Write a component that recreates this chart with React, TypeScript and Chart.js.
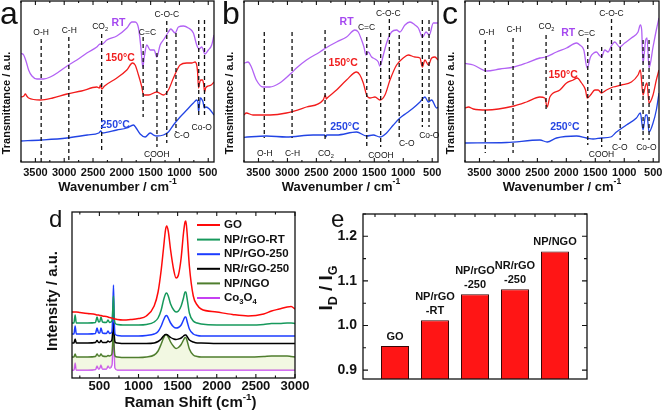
import React, { useEffect, useRef } from 'react';
import { Chart, registerables } from 'chart.js';

Chart.register(...registerables);

const FONT = '"Liberation Sans", Arial, Helvetica, sans-serif';
type Pt = [number, number];

// ---------------- FTIR (panels a, b, c) ----------------
const ftirTicks = [3500, 3000, 2500, 2000, 1500, 1000, 500];
const ftirMinorTicks = [3750, 3250, 2750, 2250, 1750, 1250, 750];
const ftirSamples = ['RT', '150°C', '250°C'];

const aRT: Pt[] = [[3750,108.7],[3704,107],[3658,100],[3618,92],[3560,86],[3473,83],[3358,83],[3242,85],[3098,90],[2925,97],[2780,102],[2607,109],[2434,115],[2376,118],[2340,118],[2260,122],[2087,126],[1913,134],[1826,140],[1769,140],[1711,134],[1670,115],[1636,95],[1613,104],[1566,117],[1508,112],[1439,112],[1393,105],[1335,117],[1266,123],[1191,130],[1150,133],[1075,129],[1018,135],[931,136],[845,134],[758,129],[700,117],[660,113],[613,115],[556,108],[498,112],[440,117],[400,127]];
const a150: Pt[] = [[3750,65],[3700,66],[3675,68],[3650,66],[3618,64],[3415,62],[3200,64],[2953,68],[2700,71],[2434,75],[2390,74],[2370,77],[2350,73],[2300,76],[2087,84],[1913,92],[1815,99],[1769,97],[1711,87],[1653,75],[1624,67],[1537,67],[1393,70],[1278,67],[1191,72],[1104,84],[989,97],[873,99],[787,99],[729,100],[700,97],[685,90],[668,74],[655,78],[630,82],[600,82],[580,78],[563,70],[545,74],[500,76],[450,77],[400,80]];
const a250: Pt[] = [[3750,21],[3400,22],[2953,24],[2600,27],[2400,29],[2365,31],[2340,29],[2087,32],[1913,34],[1798,37],[1752,34],[1682,28],[1595,25],[1508,29],[1450,27],[1393,26],[1278,27],[1191,30],[1104,37],[989,45],[873,52],[758,59],[700,62],[680,60],[668,50],[655,56],[635,64],[615,63],[590,60],[568,54],[540,55],[480,53],[400,47]];

const bRT: Pt[] = [[3750,98.7],[3681,100],[3623,95],[3537,82],[3421,75],[3306,75],[3133,79],[2931,89],[2844,94],[2671,102],[2440,110],[2337,114],[2152,120],[1979,125],[1835,132],[1777,130],[1719,122],[1679,115],[1644,107],[1604,110],[1546,105],[1488,103],[1431,100],[1405,96],[1335,109],[1288,119],[1202,130],[1115,132],[1058,130],[971,137],[885,140],[798,137],[740,134],[665,125],[607,130],[550,127],[481,139],[400,139]];
const b150: Pt[] = [[3750,47],[3710,49],[3595,47],[3300,47],[3018,49],[2671,55],[2383,62],[2345,67],[2330,63],[2314,64],[2152,72],[1979,82],[1806,90],[1748,87],[1690,79],[1633,67],[1575,64],[1488,65],[1402,62],[1316,67],[1229,82],[1115,97],[1000,104],[913,107],[798,105],[711,104],[671,95],[625,102],[567,97],[510,104],[452,105],[400,102]];
const b250: Pt[] = [[3750,24.7],[3363,26],[3018,25],[2556,27],[2360,27],[2337,25],[2320,27],[2152,27],[1806,30],[1633,26],[1517,27],[1402,25],[1288,29],[1171,37],[1058,44],[942,49],[827,54],[711,60],[625,65],[567,60],[510,62],[423,54],[400,55]];

const cRT: Pt[] = [[3750,98.7],[3606,97],[3376,91],[3146,93],[2905,95],[2687,99],[2457,104],[2354,105],[2170,110],[1997,114],[1824,119],[1767,117],[1698,112],[1641,94],[1583,105],[1526,109],[1480,110],[1434,107],[1393,105],[1336,112],[1279,110],[1233,115],[1164,120],[1078,115],[992,119],[877,124],[762,130],[722,137],[699,132],[676,99],[630,122],[607,124],[572,94],[503,115],[446,132],[400,144]];
const c150: Pt[] = [[3750,54],[3692,55],[3606,53],[3376,52],[2905,56],[2687,60],[2457,65],[2371,64],[2331,55],[2285,65],[2112,72],[1997,79],[1882,82],[1813,84],[1738,79],[1669,72],[1641,64],[1583,67],[1508,72],[1451,72],[1393,69],[1307,72],[1192,75],[1049,77],[877,80],[762,87],[722,92],[676,67],[630,77],[607,79],[572,59],[503,67],[446,82],[400,92]];
const c250: Pt[] = [[3750,19],[3031,19.5],[2457,22],[2331,20],[2170,24],[1824,26],[1652,24],[1537,23],[1393,24],[1233,25],[1135,30],[963,37],[790,44],[722,49],[676,32],[630,47],[607,47],[572,30],[503,39],[446,52],[400,69]];

// dashed band markers: [wavenumber, top, bottom]
const aMarks: number[][] = [[3400,123,0],[2920,125,0],[2350,128,9],[1630,125,45],[1390,109,15],[1220,141,19],[1060,129,30],[665,142,45],[565,142,45]];
const bMarks: number[][] = [[3400,130,24],[2920,130,24],[2350,132,20],[1630,125,15],[1390,129,15],[1240,143,82],[1070,127,25],[670,142,35],[555,142,35]];
const cMarks: number[][] = [[3400,122,9],[2920,124,9],[2350,127,52],[1630,124,17],[1390,115,15],[1220,143,62],[1070,129,22],[675,122,22],[572,122,22]];

// bond labels: [text, wavenumber, value]
const aBonds: [string, number, number][] = [['O-H',3400,129],['C-H',2913,131],['CO_{2}',2376,135],['C=C',1556,129],['C-O-C',1220,147],['COOH',1393,7],['C-O',960,26],['Co-O',613,34]];
const bBonds: [string, number, number][] = [['O-H',3392,8],['C-H',2913,8],['CO_{2}',2337,8],['C=C',1633,134],['C-O-C',1259,148],['COOH',1385,6],['C-O',940,18],['Co-O',550,26]];
const cBonds: [string, number, number][] = [['O-H',3376,129],['C-H',2905,132],['CO_{2}',2342,135],['C=C',1652,128],['C-O-C',1221,148],['COOH',1393,7],['C-O',1078,14],['Co-O',618,14]];

// sample label anchors (RT, 150, 250)
const aSampleAt: Pt[] = [[2058,139],[2029,104],[2116,37]];
const bSampleAt: Pt[] = [[1979,140],[2037,99],[2008,35]];
const cSampleAt: Pt[] = [[1969,129],[2055,87],[2026,35]];

// ---------------- Raman (panel d) ----------------
const ramanShift = [150,175,190,205,250,350,450,470,490,505,520,540,590,610,630,660,672,680,688,700,730,800,900,1000,1100,1200,1250,1290,1320,1345,1360,1380,1410,1450,1480,1510,1545,1575,1595,1605,1620,1650,1700,1750,1800,2000,2200,2400,2600,2700,2800,2900,2950,3000];
const ramanGO = [66,66,66,66,65.5,64.5,63.5,63,63,62.5, 62.5,62,61.5,61,60.5,60,59.5,59.5,59,59, 58.5,58,58.5,59.5,62,72,86,108,130,148, 152,147,128,108,100,103,120,145,156,157, 146,112,82,73,69,66,63.5,62,64,67, 69,71,71.5,69];
const ramanRT = [55,55,63,55,55,55,55.5,61,56,56.5, 61,56,55.5,58,55.5,57,70,82,64,55, 53.5,53,53,53,53.5,56,60,68,78,84, 85,82,74,68,66,67,72,80,86,86, 80,65,57,55,54,53,53,53,53.5,54.5, 54.5,55,55,54.5];
const ramanNP250 = [44,44,52,44,44,44,44.5,50,45,45, 50,45,44.5,47,44.5,46,66,93,62,44, 42.5,42,42,42,42.5,44,46.5,52,58,62, 62.5,60,55,51,50,50.5,53,58,61,61, 57,49,44,42.5,42,42,42,42,42,42, 42,42,42,42];
const ramanNR250 = [35,35,39,35,35,35,35.5,37.5,35.5,35.5, 37.5,35.5,35.5,37,36,38,48,55,45,36, 35,34.5,34.5,34.5,34.5,35,36.5,39,42,43.5, 43.5,42.5,40.5,39,38.5,39,40,42,43,43, 41.5,38,36,35,35,34.5,34.5,34.5,34.5,34.5, 34.5,34.5,34.5,34.5];
const ramanNGO = [21,21,24,21,21,21,21.5,24,22,22, 24,22,21.5,22.5,22,24,38,48,32,22, 21,20.5,20.5,20.5,21,23,27,34,40,43, 43,41,36,31.5,29.5,30.5,33.5,38,40.5,40.5, 37.5,29,23,21.5,21,21,21,21,21.5,22, 22,22,21.5,21];
const ramanCo3O4 = [8,8,15,8,8,8,8.5,12,9,10, 13,9,9,12,10,13,35,58,30,10, 8,8,8,8,8,8,8,8,8,8, 8,8,8,8,8,8,8,8,8,8, 8,8,8,8,8,8,8,8,8,8, 8,8,8,8];
const ramanNames = ['GO', 'NP/rGO-RT', 'NP/rGO-250', 'NR/rGO-250', 'NP/NGO', 'Co_{3}O_{4}'];
const ramanTicks = [500, 1000, 1500, 2000, 2500, 3000];
const ramanMinorTicks = [250, 750, 1250, 1750, 2250, 2750];

// ---------------- ID/IG (panel e) ----------------
const idgLabels = ['GO', 'NP/rGO-RT', 'NP/rGO-250', 'NR/rGO-250', 'NP/NGO'];
const idgValues = [0.954, 1.012, 1.07, 1.081, 1.166];
const idgTicks = [0.9, 1.0, 1.1, 1.2];
const idgMinorTicks = [0.95, 1.05, 1.15, 1.25];

// ---------------- helpers ----------------
const ftirLineColors = ['#b262f4', '#f21c1c', '#2244e4'];
const ftirLabelColors = ['#a548f0', '#f01e1e', '#2646e2'];
const ramanColors = ['#ff0a0a', '#17995c', '#1c3cff', '#000000', '#4f7e2e', '#c640f2'];
const INK = '#111';

type Seg = { t: string; k: 'n' | 'sub' | 'sup' };
function parseRich(s: string): Seg[] {
  const out: Seg[] = [];
  const re = /([_^])\{([^}]*)\}|([^_^]+)/g;
  let m: RegExpExecArray | null;
  while ((m = re.exec(s))) {
    if (m[3] !== undefined) out.push({ t: m[3], k: 'n' });
    else out.push({ t: m[2], k: m[1] === '_' ? 'sub' : 'sup' });
  }
  return out;
}
function fontStr(size: number, bold: boolean) {
  return `${bold ? 'bold ' : ''}${size}px ${FONT}`;
}
function drawRich(ctx: CanvasRenderingContext2D, s: string, x: number, y: number, size: number, bold: boolean, color: string, align: 'left' | 'center' | 'right' = 'center') {
  const segs = parseRich(s);
  const small = size * 0.66;
  let w = 0;
  for (const g of segs) {
    ctx.font = fontStr(g.k === 'n' ? size : small, bold);
    w += ctx.measureText(g.t).width;
  }
  let cx = align === 'center' ? x - w / 2 : align === 'right' ? x - w : x;
  ctx.fillStyle = color;
  ctx.textBaseline = 'middle';
  ctx.textAlign = 'left';
  for (const g of segs) {
    const sz = g.k === 'n' ? size : small;
    ctx.font = fontStr(sz, bold);
    const dy = g.k === 'sub' ? size * 0.32 : g.k === 'sup' ? -size * 0.38 : 0;
    ctx.fillText(g.t, cx, y + dy);
    cx += ctx.measureText(g.t).width;
  }
}
function drawRotated(ctx: CanvasRenderingContext2D, s: string, x: number, y: number, size: number, color: string) {
  ctx.save();
  ctx.translate(x, y);
  ctx.rotate(-Math.PI / 2);
  drawRich(ctx, s, 0, 0, size, true, color);
  ctx.restore();
}
function frame(ctx: CanvasRenderingContext2D, ca: any) {
  ctx.save();
  ctx.strokeStyle = INK;
  ctx.lineWidth = 1.3;
  ctx.setLineDash([]);
  ctx.strokeRect(ca.left, ca.top, ca.right - ca.left, ca.bottom - ca.top);
  ctx.restore();
}
function xTicks(ctx: CanvasRenderingContext2D, ca: any, sx: any, values: number[], len: number, top: boolean, bottom: boolean) {
  ctx.save();
  ctx.strokeStyle = INK;
  ctx.lineWidth = 1.1;
  ctx.beginPath();
  for (const v of values) {
    const px = sx.getPixelForValue(v);
    if (px < ca.left - 0.5 || px > ca.right + 0.5) continue;
    if (bottom) { ctx.moveTo(px, ca.bottom); ctx.lineTo(px, ca.bottom - len); }
    if (top) { ctx.moveTo(px, ca.top); ctx.lineTo(px, ca.top + len); }
  }
  ctx.stroke();
  ctx.restore();
}
function yTicks(ctx: CanvasRenderingContext2D, ca: any, sy: any, values: number[], len: number) {
  ctx.save();
  ctx.strokeStyle = INK;
  ctx.lineWidth = 1.1;
  ctx.beginPath();
  for (const v of values) {
    const py = sy.getPixelForValue(v);
    ctx.moveTo(ca.left, py); ctx.lineTo(ca.left + len, py);
    ctx.moveTo(ca.right, py); ctx.lineTo(ca.right - len, py);
  }
  ctx.stroke();
  ctx.restore();
}

// ---------------- chart configs ----------------
function ftirConfig(series: Pt[][], marks: number[][], bonds: [string, number, number][], sampleAt: Pt[], letter: string, letterX: number, pad: any) {
  return {
    type: 'line',
    data: {
      datasets: series.map((s, i) => ({
        label: ftirSamples[i],
        data: s.map(([x, y]) => ({ x, y })),
        borderColor: ftirLineColors[i],
        borderWidth: 1.3,
        pointRadius: 0,
        fill: false,
        cubicInterpolationMode: 'monotone',
      })),
    },
    options: {
      animation: false,
      responsive: false,
      events: [],
      layout: { padding: pad },
      scales: {
        x: { type: 'linear', reverse: true, min: 400, max: 3750, display: false },
        y: { type: 'linear', min: 0, max: 161, display: false },
      },
      plugins: { legend: { display: false }, tooltip: { enabled: false } },
    },
    plugins: [{
      id: 'ftirDecor',
      afterDatasetsDraw(chart: any) {
        const { ctx, chartArea: ca, scales } = chart;
        const sx = scales.x, sy = scales.y;
        ctx.save();
        ctx.strokeStyle = INK;
        ctx.lineWidth = 1.3;
        ctx.setLineDash([4, 3]);
        ctx.beginPath();
        for (const [wn, y0, y1] of marks) {
          const px = sx.getPixelForValue(wn);
          ctx.moveTo(px, sy.getPixelForValue(y0));
          ctx.lineTo(px, sy.getPixelForValue(y1));
        }
        ctx.stroke();
        ctx.setLineDash([]);
        for (const [t, wn, v] of bonds) {
          drawRich(ctx, t, sx.getPixelForValue(wn), sy.getPixelForValue(v), 8.5, false, INK);
        }
        sampleAt.forEach(([wn, v], i) => {
          drawRich(ctx, ftirSamples[i], sx.getPixelForValue(wn), sy.getPixelForValue(v), 10.5, true, ftirLabelColors[i]);
        });
        frame(ctx, ca);
        xTicks(ctx, ca, sx, ftirTicks, 4, true, true);
        xTicks(ctx, ca, sx, ftirMinorTicks, 2, true, true);
        for (const t of ftirTicks) {
          drawRich(ctx, String(t), sx.getPixelForValue(t), ca.bottom + 11, 11, true, INK);
        }
        drawRich(ctx, 'Wavenumber / cm^{-1}', (ca.left + ca.right) / 2, ca.bottom + 25, 13, true, INK);
        drawRotated(ctx, 'Transmittance / a.u.', ca.left - 14, ca.bottom - 59, 11, INK);
        ctx.font = `32px ${FONT}`;
        ctx.fillStyle = INK;
        ctx.textAlign = 'left';
        ctx.textBaseline = 'alphabetic';
        ctx.fillText(letter, letterX, 24);
        ctx.restore();
      },
    }],
  } as any;
}

function ramanConfig() {
  const series = [ramanGO, ramanRT, ramanNP250, ramanNR250, ramanNGO, ramanCo3O4];
  return {
    type: 'line',
    data: {
      datasets: series.map((vals, i) => ({
        label: ramanNames[i],
        data: vals.map((v, j) => ({ x: ramanShift[j], y: v })),
        borderColor: ramanColors[i],
        borderWidth: 1.5,
        pointRadius: 0,
        cubicInterpolationMode: 'monotone',
        fill: i === 4 ? { target: '+1' } : false,
        backgroundColor: i === 4 ? 'rgba(226,240,190,0.45)' : 'transparent',
      })),
    },
    options: {
      animation: false,
      responsive: false,
      events: [],
      layout: { padding: { left: 72, right: 25, top: 12, bottom: 38 } },
      scales: {
        x: { type: 'linear', min: 150, max: 3000, display: false },
        y: { type: 'linear', min: 0, max: 166, display: false },
      },
      plugins: { legend: { display: false }, tooltip: { enabled: false } },
    },
    plugins: [{
      id: 'ramanDecor',
      afterDatasetsDraw(chart: any) {
        const { ctx, chartArea: ca, scales } = chart;
        const sx = scales.x;
        ctx.save();
        frame(ctx, ca);
        xTicks(ctx, ca, sx, ramanTicks, 4, true, true);
        xTicks(ctx, ca, sx, ramanMinorTicks, 2.5, true, true);
        for (const t of ramanTicks) {
          drawRich(ctx, String(t), sx.getPixelForValue(t), ca.bottom + 8, 13, true, INK);
        }
        drawRich(ctx, 'Raman Shift (cm^{-1})', (ca.left + ca.right) / 2 + 7, ca.bottom + 25, 15, true, INK);
        drawRotated(ctx, 'Intensity / a.u.', ca.left - 19, ca.bottom - 77, 15, INK);
        // legend
        ramanNames.forEach((name, i) => {
          const yy = ca.top + 13 + i * 14.6;
          ctx.strokeStyle = ramanColors[i];
          ctx.lineWidth = 2;
          ctx.beginPath();
          ctx.moveTo(ca.right - 98, yy);
          ctx.lineTo(ca.right - 75, yy);
          ctx.stroke();
          drawRich(ctx, name, ca.right - 71, yy, 11.5, true, INK, 'left');
        });
        ctx.font = `24px ${FONT}`;
        ctx.fillStyle = INK;
        ctx.textAlign = 'left';
        ctx.textBaseline = 'alphabetic';
        ctx.fillText('d', 49, 27);
        ctx.restore();
      },
    }],
  } as any;
}

function idgConfig() {
  const topTicks: number[] = [];
  idgLabels.forEach((_, i) => { topTicks.push(i + 0.5, i + 1); });
  topTicks.push(idgLabels.length + 0.5);
  return {
    type: 'bar',
    data: {
      datasets: [{
        label: 'ID/IG',
        data: idgValues.map((v, i) => ({ x: i + 1, y: v })),
        backgroundColor: '#ff1515',
        borderColor: '#3a0606',
        borderWidth: 1,
        categoryPercentage: 1,
        barPercentage: 0.7,
      }],
    },
    options: {
      animation: false,
      responsive: false,
      events: [],
      layout: { padding: { left: 53, right: 76, top: 14, bottom: 37 } },
      scales: {
        x: { type: 'linear', min: 0.2, max: 5.8, offset: false, display: false },
        y: { type: 'linear', min: 0.88, max: 1.25, display: false },
      },
      plugins: { legend: { display: false }, tooltip: { enabled: false } },
    },
    plugins: [{
      id: 'idgDecor',
      afterDatasetsDraw(chart: any) {
        const { ctx, chartArea: ca, scales } = chart;
        const sx = scales.x, sy = scales.y;
        ctx.save();
        frame(ctx, ca);
        yTicks(ctx, ca, sy, idgTicks, 5);
        yTicks(ctx, ca, sy, idgMinorTicks, 3);
        xTicks(ctx, ca, sx, topTicks, 3, true, false);
        for (const t of idgTicks) {
          drawRich(ctx, t.toFixed(1), ca.left - 6, sy.getPixelForValue(t), 14, true, INK, 'right');
        }
        drawRotated(ctx, 'I_{D} / I_{G}', ca.left - 36, ca.bottom - 91, 19, INK);
        idgLabels.forEach((lab, i) => {
          const k = lab.indexOf('-');
          const lines = k > 0 ? [lab.slice(0, k), lab.slice(k)] : [lab];
          const px = sx.getPixelForValue(i + 1);
          const topPx = sy.getPixelForValue(idgValues[i]);
          lines.forEach((ln, j) => {
            const yy = topPx - 9 - (lines.length - 1 - j) * 14;
            drawRich(ctx, ln, px, yy, 11, true, INK);
          });
        });
        ctx.font = `24px ${FONT}`;
        ctx.fillStyle = INK;
        ctx.textAlign = 'left';
        ctx.textBaseline = 'alphabetic';
        ctx.fillText('e', 21, 27);
        ctx.restore();
      },
    }],
  } as any;
}

function Panel(props: { left: number; top: number; width: number; height: number; make: () => any }) {
  const ref = useRef<HTMLCanvasElement>(null);
  useEffect(() => {
    const chart = new Chart(ref.current as HTMLCanvasElement, props.make());
    return () => chart.destroy();
  }, []);
  return (
    <canvas
      ref={ref}
      width={props.width}
      height={props.height}
      style={{ position: 'absolute', left: props.left, top: props.top, width: props.width, height: props.height }}
    />
  );
}

export default function App() {
  return (
    <div style={{ position: 'absolute', left: 0, top: 0, width: 663, height: 416, background: '#fff', overflow: 'hidden' }}>
      <Panel left={0} top={0} width={222} height={200}
        make={() => ftirConfig([aRT, a150, a250], aMarks, aBonds, aSampleAt, 'a', 0, { left: 21, right: 8, top: 1, bottom: 38 })} />
      <Panel left={222} top={0} width={222} height={200}
        make={() => ftirConfig([bRT, b150, b250], bMarks, bBonds, bSampleAt, 'b', 0, { left: 22, right: 6, top: 1, bottom: 38 })} />
      <Panel left={441} top={0} width={222} height={200}
        make={() => ftirConfig([cRT, c150, c250], cMarks, cBonds, cSampleAt, 'c', 1, { left: 24, right: 4, top: 1, bottom: 38 })} />
      <Panel left={0} top={200} width={320} height={216} make={ramanConfig} />
      <Panel left={310} top={200} width={353} height={216} make={idgConfig} />
    </div>
  );
}
